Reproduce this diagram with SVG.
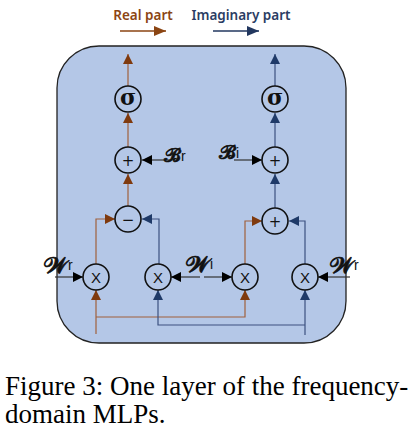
<svg xmlns="http://www.w3.org/2000/svg" width="420" height="439" viewBox="0 0 420 439">
<style>
.op{fill:none;stroke:#111;stroke-width:1.6}
.br{stroke:#a0603c;stroke-width:1.2;fill:none}
.bl{stroke:#3c5180;stroke-width:1.2;fill:none}
.bk{stroke:#333;stroke-width:1.2;fill:none}
.sym{font-family:"DejaVu Sans",sans-serif;font-size:15px;text-anchor:middle;fill:#111}
.x{font-family:"Liberation Sans",sans-serif;font-size:15px;text-anchor:middle;fill:#111}
.sig{font-family:"DejaVu Serif",serif;font-weight:bold;font-size:22px;text-anchor:middle;fill:#111}
.scr{font-family:"DejaVu Serif","DejaVu Sans","Noto Sans",serif;fill:#111;stroke:#111;stroke-width:0.7}
.sub{font-family:"Liberation Sans",sans-serif;font-size:14px;fill:#111}
.leg{font-family:"Noto Sans",sans-serif;font-weight:600;font-size:13.5px}
.cap{font-family:"Liberation Serif",serif;font-size:27px;fill:#000}
</style>
<defs>
<marker id="ab" markerWidth="10" markerHeight="10" refX="10" refY="5" orient="auto" markerUnits="userSpaceOnUse"><path d="M0,0 L10,5 L0,10 Z" fill="#7f3a0e"/></marker>
<marker id="au" markerWidth="10" markerHeight="10" refX="10" refY="5" orient="auto" markerUnits="userSpaceOnUse"><path d="M0,0 L10,5 L0,10 Z" fill="#1f3a68"/></marker>
<marker id="ak" markerWidth="10" markerHeight="10" refX="10" refY="5" orient="auto" markerUnits="userSpaceOnUse"><path d="M0,0 L10,5 L0,10 Z" fill="#000"/></marker>
<marker id="lb" markerWidth="12" markerHeight="10" refX="12" refY="5" orient="auto" markerUnits="userSpaceOnUse"><path d="M0,0 L12,5 L0,10 Z" fill="#8b4513"/></marker>
<marker id="lu" markerWidth="12" markerHeight="10" refX="12" refY="5" orient="auto" markerUnits="userSpaceOnUse"><path d="M0,0 L12,5 L0,10 Z" fill="#22375f"/></marker>
</defs>

<g id="legend">
<text class="leg" x="143" y="20" text-anchor="middle" fill="#8b4513">Real part</text>
<line x1="120" y1="31" x2="166" y2="31" stroke="#8b4513" stroke-width="1.3" marker-end="url(#lb)"/>
<text class="leg" x="241" y="20" text-anchor="middle" fill="#2b3d63">Imaginary part</text>
<line x1="213" y1="31" x2="259" y2="31" stroke="#22375f" stroke-width="1.3" marker-end="url(#lu)"/>
</g>

<g id="layer-box">
<rect x="57" y="46" width="289" height="297" rx="42" ry="42" fill="#b4c7e7" stroke="#222" stroke-width="1.3"/>
</g>

<g id="connectors">
<line class="br" x1="128" y1="86" x2="128" y2="54" marker-end="url(#ab)"/>
<line class="bl" x1="275" y1="86" x2="275" y2="54" marker-end="url(#au)"/>
<line class="br" x1="128" y1="147" x2="128" y2="113" marker-end="url(#ab)"/>
<line class="bl" x1="275" y1="147" x2="275" y2="113" marker-end="url(#au)"/>
<line class="br" x1="128" y1="206" x2="128" y2="174" marker-end="url(#ab)"/>
<line class="bl" x1="275" y1="208" x2="275" y2="174" marker-end="url(#au)"/>
<line class="bk" x1="171" y1="160" x2="142" y2="160" marker-end="url(#ak)"/>
<line class="bk" x1="234" y1="160" x2="262" y2="160" marker-end="url(#ak)"/>
<polyline class="br" points="96,264 96,219 115,219" marker-end="url(#ab)"/>
<polyline class="bl" points="159,264 159,219 142,219" marker-end="url(#au)"/>
<polyline class="br" points="245,264 245,221 262,221" marker-end="url(#ab)"/>
<polyline class="bl" points="305,264 305,221 289,221" marker-end="url(#au)"/>
<line class="bk" x1="55" y1="277" x2="83" y2="277" marker-end="url(#ak)"/>
<line class="bk" x1="200" y1="277" x2="171" y2="277" marker-end="url(#ak)"/>
<line class="bk" x1="204" y1="277" x2="232" y2="277" marker-end="url(#ak)"/>
<line class="bk" x1="350" y1="277" x2="318" y2="277" marker-end="url(#ak)"/>
<line class="br" x1="96" y1="334" x2="96" y2="290" marker-end="url(#ab)"/>
<polyline class="br" points="96,317 245,317 245,290" marker-end="url(#ab)"/>
<line class="bl" x1="305" y1="335" x2="305" y2="290" marker-end="url(#au)"/>
<polyline class="bl" points="305,325 158,325 158,290" marker-end="url(#au)"/>
</g>

<g id="sigma-r"><circle class="op" cx="128" cy="99" r="13"/><text class="sig" x="128" y="105">σ</text></g>
<g id="sigma-i"><circle class="op" cx="275" cy="99" r="13"/><text class="sig" x="275" y="105">σ</text></g>
<g id="plus-r"><circle class="op" cx="128" cy="160" r="13"/><text class="sym" x="128" y="165.5">+</text></g>
<g id="plus-i"><circle class="op" cx="275" cy="160" r="13"/><text class="sym" x="275" y="165.5">+</text></g>
<g id="minus"><circle class="op" cx="128" cy="219" r="13"/><text class="sym" x="128" y="225" font-size="19">−</text></g>
<g id="plus-mid"><circle class="op" cx="275" cy="221" r="13"/><text class="sym" x="275" y="226.5">+</text></g>
<g id="mul-1"><circle class="op" cx="96" cy="277" r="13"/><text class="x" x="96" y="282.5">X</text></g>
<g id="mul-2"><circle class="op" cx="158" cy="277" r="13"/><text class="x" x="158" y="282.5">X</text></g>
<g id="mul-3"><circle class="op" cx="245" cy="277" r="13"/><text class="x" x="245" y="282.5">X</text></g>
<g id="mul-4"><circle class="op" cx="305" cy="277" r="13"/><text class="x" x="305" y="282.5">X</text></g>

<g id="labels">
<text x="164" y="162"><tspan class="scr" font-size="19">𝓑</tspan><tspan class="sub" dy="-1">r</tspan></text>
<text x="219" y="159"><tspan class="scr" font-size="19">𝓑</tspan><tspan class="sub" dy="-1">i</tspan></text>
<text x="44" y="273"><tspan class="scr" font-size="23">𝓦</tspan><tspan class="sub" dy="-3">r</tspan></text>
<text x="186" y="272"><tspan class="scr" font-size="23">𝓦</tspan><tspan class="sub" dy="-3">i</tspan></text>
<text x="330" y="273"><tspan class="scr" font-size="23">𝓦</tspan><tspan class="sub" dy="-3">r</tspan></text>
</g>

<g id="caption">
<text class="cap" x="5" y="395">Figure 3: One layer of the frequency-</text>
<text class="cap" x="5" y="423">domain MLPs.</text>
</g>
</svg>
